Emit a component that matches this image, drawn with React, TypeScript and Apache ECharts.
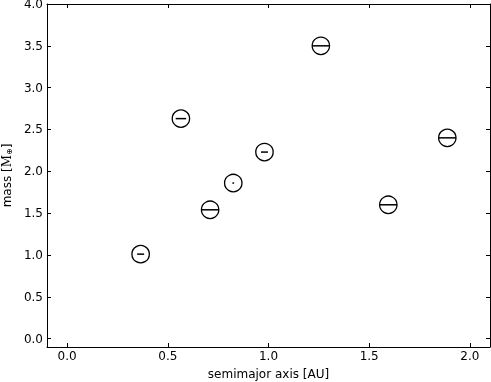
import React, { useEffect, useRef } from "react";
import * as echarts from "echarts";

const semimajorAxis = [0.365, 0.565, 0.71, 0.825, 0.98, 1.26, 1.595, 1.888];
const mass = [1.01, 2.63, 1.54, 1.86, 2.23, 3.5, 1.6, 2.4];
const barFraction = [0.4, 0.6, 1.0, 0.1, 0.4, 1.0, 1.0, 1.0];

const xTitle = "semimajor axis [AU]";
const FONT = "DejaVu Sans";

export default function App() {
  const ref = useRef<HTMLDivElement>(null);
  useEffect(() => {
    if (!ref.current) return;
    const chart = echarts.init(ref.current, null, { renderer: "svg" });
    const data = semimajorAxis.map((x, i) => [x, mass[i], barFraction[i]]);
    const fmt = (v: number) => {
      const r = Math.round(v * 2) / 2;
      return Math.abs(r - v) < 1e-6 ? v.toFixed(1) : "";
    };
    const axisLine = { show: true, onZero: false, lineStyle: { color: "#000", width: 1 } };
    const tick = { show: true, inside: true, length: 4, lineStyle: { color: "#000", width: 1 } };
    const xBase = { type: "value" as const, min: -0.1, max: 2.1, splitNumber: 5, splitLine: { show: false }, axisLine, axisTick: tick };
    const yBase = { type: "value" as const, min: -0.1, max: 4.0, splitNumber: 8, splitLine: { show: false }, axisLine, axisTick: tick };
    chart.setOption({
      animation: false,
      grid: { left: 47, top: 4, right: 1, bottom: 35, containLabel: false, outerBoundsMode: "none" },
      xAxis: [
        {
          ...xBase,
          position: "bottom",
          axisLabel: { show: true, formatter: fmt, color: "#000", fontFamily: FONT, fontSize: 12, margin: 3, showMinLabel: false, showMaxLabel: false },
          name: xTitle,
          nameLocation: "middle",
          nameGap: 21,
          nameTextStyle: { color: "#000", fontFamily: FONT, fontSize: 12 },
        },
        { ...xBase, position: "top", axisLabel: { show: false } },
      ],
      yAxis: [
        {
          ...yBase,
          position: "left",
          axisLabel: { show: true, formatter: fmt, color: "#000", fontFamily: FONT, fontSize: 12, margin: 4, showMinLabel: false },
          name: "{a|mass [}{m|M}{s|⊕}{a|]}",
          nameLocation: "middle",
          nameGap: 33,
          nameRotate: 90,
          nameTextStyle: {
            color: "#000",
            fontFamily: FONT,
            fontSize: 12,
            rich: {
              a: { fontFamily: FONT, fontSize: 12, color: "#000" },
              m: { fontFamily: "DejaVu Serif", fontSize: 12, color: "#000" },
              s: { fontFamily: "DejaVu Sans", fontSize: 8, color: "#000", padding: [5, 0, 0, 0] },
            },
          },
        },
        { ...yBase, position: "right", axisLabel: { show: false } },
      ],
      series: [
        {
          type: "custom",
          xAxisIndex: 0,
          yAxisIndex: 0,
          data,
          renderItem: (params: any, api: any) => {
            const p = api.coord([api.value(0), api.value(1)]);
            const r = 8.7;
            const half = r * api.value(2);
            return {
              type: "group",
              children: [
                {
                  type: "circle",
                  shape: { cx: p[0], cy: p[1], r },
                  style: { fill: "none", stroke: "#000", lineWidth: 1.3 },
                },
                {
                  type: "line",
                  shape: { x1: p[0] - half, y1: p[1], x2: p[0] + half, y2: p[1] },
                  style: { stroke: "#000", lineWidth: 1.5 },
                },
              ],
            };
          },
        },
      ],
    });
    return () => chart.dispose();
  }, []);
  return <div ref={ref} style={{ position: "fixed", left: 0, top: 0, width: 491, height: 382 }} />;
}
